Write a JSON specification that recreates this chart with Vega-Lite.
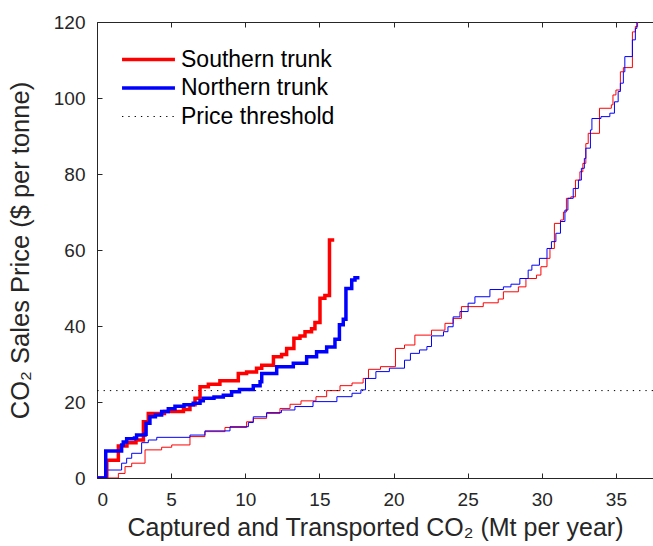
{
 "$schema": "https://vega.github.io/schema/vega-lite/v6.json",
 "width": 556, "height": 456,
 "autosize": {"type": "none"},
 "padding": {"left": 97, "top": 22, "right": 0, "bottom": 68},
 "background": "white",
 "config": {
  "view": {"stroke": null},
  "font": "Liberation Sans",
  "axis": {"grid": false, "domainColor": "#262626", "tickColor": "#262626", "labelColor": "#262626", "titleColor": "#262626", "labelFontSize": 19, "titleFontSize": 25, "titleFontWeight": "normal", "tickSize": -5, "domainWidth": 1, "tickWidth": 1}
 },
 "datasets": {
  "pts": [
   {"series":"Southern trunk","kind":"thick","x":0,"y":0},{"series":"Southern trunk","kind":"thick","x":0.66,"y":4.7},{"series":"Southern trunk","kind":"thick","x":1.44,"y":8.4},{"series":"Southern trunk","kind":"thick","x":2.02,"y":9.3},{"series":"Southern trunk","kind":"thick","x":2.63,"y":10.0},{"series":"Southern trunk","kind":"thick","x":3.13,"y":14.8},{"series":"Southern trunk","kind":"thick","x":3.46,"y":17.0},{"series":"Southern trunk","kind":"thick","x":4.55,"y":17.5},{"series":"Southern trunk","kind":"thick","x":5.83,"y":18.0},{"series":"Southern trunk","kind":"thick","x":6.27,"y":19.3},{"series":"Southern trunk","kind":"thick","x":6.61,"y":21.0},{"series":"Southern trunk","kind":"thick","x":6.95,"y":24.0},{"series":"Southern trunk","kind":"thick","x":7.51,"y":24.7},{"series":"Southern trunk","kind":"thick","x":8.29,"y":25.6},{"series":"Southern trunk","kind":"thick","x":9.53,"y":27.5},{"series":"Southern trunk","kind":"thick","x":10.09,"y":27.9},{"series":"Southern trunk","kind":"thick","x":10.76,"y":28.9},{"series":"Southern trunk","kind":"thick","x":11.11,"y":29.7},{"series":"Southern trunk","kind":"thick","x":11.9,"y":31.9},{"series":"Southern trunk","kind":"thick","x":12.45,"y":32.5},{"series":"Southern trunk","kind":"thick","x":12.79,"y":34.1},{"series":"Southern trunk","kind":"thick","x":13.28,"y":36.8},{"series":"Southern trunk","kind":"thick","x":13.69,"y":37.4},{"series":"Southern trunk","kind":"thick","x":14.03,"y":38.5},{"series":"Southern trunk","kind":"thick","x":14.47,"y":39.3},{"series":"Southern trunk","kind":"thick","x":14.7,"y":40.9},{"series":"Southern trunk","kind":"thick","x":15.04,"y":47.3},{"series":"Southern trunk","kind":"thick","x":15.37,"y":48.0},{"series":"Southern trunk","kind":"thick","x":15.68,"y":62.6},{"series":"Southern trunk","kind":"thick","x":16.0,"y":62.6},
   {"series":"Northern trunk","kind":"thick","x":0,"y":0},{"series":"Northern trunk","kind":"thick","x":0.59,"y":7.1},{"series":"Northern trunk","kind":"thick","x":1.66,"y":8.7},{"series":"Northern trunk","kind":"thick","x":1.77,"y":9.5},{"series":"Northern trunk","kind":"thick","x":2.0,"y":10.3},{"series":"Northern trunk","kind":"thick","x":2.53,"y":10.5},{"series":"Northern trunk","kind":"thick","x":2.67,"y":11.3},{"series":"Northern trunk","kind":"thick","x":3.24,"y":11.5},{"series":"Northern trunk","kind":"thick","x":3.31,"y":14.4},{"series":"Northern trunk","kind":"thick","x":3.57,"y":16.1},{"series":"Northern trunk","kind":"thick","x":3.94,"y":16.6},{"series":"Northern trunk","kind":"thick","x":4.36,"y":17.5},{"series":"Northern trunk","kind":"thick","x":4.81,"y":18.2},{"series":"Northern trunk","kind":"thick","x":5.26,"y":18.9},{"series":"Northern trunk","kind":"thick","x":5.87,"y":19.3},{"series":"Northern trunk","kind":"thick","x":6.49,"y":19.7},{"series":"Northern trunk","kind":"thick","x":6.95,"y":20.3},{"series":"Northern trunk","kind":"thick","x":7.17,"y":21.0},{"series":"Northern trunk","kind":"thick","x":7.89,"y":21.3},{"series":"Northern trunk","kind":"thick","x":8.52,"y":21.8},{"series":"Northern trunk","kind":"thick","x":9.08,"y":22.7},{"series":"Northern trunk","kind":"thick","x":9.61,"y":23.3},{"series":"Northern trunk","kind":"thick","x":10.54,"y":24.3},{"series":"Northern trunk","kind":"thick","x":11.0,"y":25.3},{"series":"Northern trunk","kind":"thick","x":11.11,"y":27.5},{"series":"Northern trunk","kind":"thick","x":12.12,"y":29.3},{"series":"Northern trunk","kind":"thick","x":13.24,"y":30.2},{"series":"Northern trunk","kind":"thick","x":14.14,"y":31.9},{"series":"Northern trunk","kind":"thick","x":14.81,"y":33.2},{"series":"Northern trunk","kind":"thick","x":15.49,"y":34.5},{"series":"Northern trunk","kind":"thick","x":16.05,"y":36.5},{"series":"Northern trunk","kind":"thick","x":16.35,"y":40.3},{"series":"Northern trunk","kind":"thick","x":16.61,"y":41.8},{"series":"Northern trunk","kind":"thick","x":16.79,"y":49.9},{"series":"Northern trunk","kind":"thick","x":17.18,"y":52.1},{"series":"Northern trunk","kind":"thick","x":17.4,"y":52.7},{"series":"Northern trunk","kind":"thick","x":17.7,"y":52.7},
   {"series":"Southern trunk","kind":"thin","x":0,"y":0},{"series":"Southern trunk","kind":"thin","x":1.44,"y":1.2},{"series":"Southern trunk","kind":"thin","x":1.89,"y":3.0},{"series":"Southern trunk","kind":"thin","x":2.34,"y":3.9},{"series":"Southern trunk","kind":"thin","x":3.24,"y":7.4},{"series":"Southern trunk","kind":"thin","x":4.36,"y":8.1},{"series":"Southern trunk","kind":"thin","x":5.04,"y":8.7},{"series":"Southern trunk","kind":"thin","x":6.27,"y":10.9},{"series":"Southern trunk","kind":"thin","x":7.28,"y":12.2},{"series":"Southern trunk","kind":"thin","x":8.63,"y":13.3},{"series":"Southern trunk","kind":"thin","x":10.09,"y":14.8},{"series":"Southern trunk","kind":"thin","x":10.54,"y":15.7},{"series":"Southern trunk","kind":"thin","x":11.44,"y":17.0},{"series":"Southern trunk","kind":"thin","x":12.34,"y":18.3},{"series":"Southern trunk","kind":"thin","x":13.02,"y":19.4},{"series":"Southern trunk","kind":"thin","x":13.76,"y":20.3},{"series":"Southern trunk","kind":"thin","x":14.77,"y":21.4},{"series":"Southern trunk","kind":"thin","x":15.49,"y":23.0},{"series":"Southern trunk","kind":"thin","x":16.39,"y":24.3},{"series":"Southern trunk","kind":"thin","x":17.2,"y":25.0},{"series":"Southern trunk","kind":"thin","x":17.95,"y":26.2},{"series":"Southern trunk","kind":"thin","x":18.31,"y":28.6},{"series":"Southern trunk","kind":"thin","x":19.12,"y":29.3},{"series":"Southern trunk","kind":"thin","x":20.13,"y":34.1},{"series":"Southern trunk","kind":"thin","x":20.74,"y":35.0},{"series":"Southern trunk","kind":"thin","x":21.44,"y":37.6},{"series":"Southern trunk","kind":"thin","x":22.56,"y":38.9},{"series":"Southern trunk","kind":"thin","x":23.47,"y":40.7},{"series":"Southern trunk","kind":"thin","x":24.02,"y":42.0},{"series":"Southern trunk","kind":"thin","x":24.58,"y":45.1},{"series":"Southern trunk","kind":"thin","x":26.05,"y":46.1},{"series":"Southern trunk","kind":"thin","x":27.06,"y":47.1},{"series":"Southern trunk","kind":"thin","x":27.41,"y":49.0},{"series":"Southern trunk","kind":"thin","x":28.42,"y":50.3},{"series":"Southern trunk","kind":"thin","x":28.93,"y":52.5},{"series":"Southern trunk","kind":"thin","x":29.64,"y":53.4},{"series":"Southern trunk","kind":"thin","x":29.94,"y":55.6},{"series":"Southern trunk","kind":"thin","x":30.35,"y":57.8},{"series":"Southern trunk","kind":"thin","x":30.55,"y":60.4},{"series":"Southern trunk","kind":"thin","x":30.85,"y":67.0},{"series":"Southern trunk","kind":"thin","x":31.26,"y":67.9},{"series":"Southern trunk","kind":"thin","x":31.46,"y":70.0},{"series":"Southern trunk","kind":"thin","x":31.66,"y":73.6},{"series":"Southern trunk","kind":"thin","x":31.96,"y":74.0},{"series":"Southern trunk","kind":"thin","x":32.27,"y":78.4},{"series":"Southern trunk","kind":"thin","x":32.57,"y":80.6},{"series":"Southern trunk","kind":"thin","x":32.77,"y":82.8},{"series":"Southern trunk","kind":"thin","x":32.97,"y":88.0},{"series":"Southern trunk","kind":"thin","x":33.13,"y":90.7},{"series":"Southern trunk","kind":"thin","x":33.89,"y":97.3},{"series":"Southern trunk","kind":"thin","x":34.69,"y":98.2},{"series":"Southern trunk","kind":"thin","x":34.8,"y":100.8},{"series":"Southern trunk","kind":"thin","x":35.0,"y":102.1},{"series":"Southern trunk","kind":"thin","x":35.3,"y":106.9},{"series":"Southern trunk","kind":"thin","x":35.5,"y":108.0},{"series":"Southern trunk","kind":"thin","x":36.11,"y":117.4},{"series":"Southern trunk","kind":"thin","x":36.31,"y":118.8},{"series":"Southern trunk","kind":"thin","x":36.46,"y":120.5},{"series":"Southern trunk","kind":"thin","x":36.62,"y":120.5},
   {"series":"Northern trunk","kind":"thin","x":0,"y":0},{"series":"Northern trunk","kind":"thin","x":0.65,"y":2.1},{"series":"Northern trunk","kind":"thin","x":1.66,"y":3.9},{"series":"Northern trunk","kind":"thin","x":2.0,"y":5.2},{"series":"Northern trunk","kind":"thin","x":2.34,"y":6.5},{"series":"Northern trunk","kind":"thin","x":3.01,"y":9.3},{"series":"Northern trunk","kind":"thin","x":3.46,"y":10.0},{"series":"Northern trunk","kind":"thin","x":4.03,"y":10.7},{"series":"Northern trunk","kind":"thin","x":6.27,"y":11.3},{"series":"Northern trunk","kind":"thin","x":7.28,"y":12.4},{"series":"Northern trunk","kind":"thin","x":8.97,"y":13.5},{"series":"Northern trunk","kind":"thin","x":10.21,"y":14.6},{"series":"Northern trunk","kind":"thin","x":10.54,"y":16.1},{"series":"Northern trunk","kind":"thin","x":11.44,"y":17.2},{"series":"Northern trunk","kind":"thin","x":12.44,"y":17.9},{"series":"Northern trunk","kind":"thin","x":13.35,"y":18.8},{"series":"Northern trunk","kind":"thin","x":14.57,"y":20.1},{"series":"Northern trunk","kind":"thin","x":16.18,"y":21.4},{"series":"Northern trunk","kind":"thin","x":17.2,"y":22.3},{"series":"Northern trunk","kind":"thin","x":17.8,"y":23.2},{"series":"Northern trunk","kind":"thin","x":18.11,"y":26.2},{"series":"Northern trunk","kind":"thin","x":18.81,"y":28.0},{"series":"Northern trunk","kind":"thin","x":19.72,"y":28.9},{"series":"Northern trunk","kind":"thin","x":20.74,"y":31.0},{"series":"Northern trunk","kind":"thin","x":21.14,"y":32.8},{"series":"Northern trunk","kind":"thin","x":21.75,"y":33.7},{"series":"Northern trunk","kind":"thin","x":22.25,"y":34.6},{"series":"Northern trunk","kind":"thin","x":22.56,"y":37.4},{"series":"Northern trunk","kind":"thin","x":23.37,"y":38.5},{"series":"Northern trunk","kind":"thin","x":23.67,"y":39.8},{"series":"Northern trunk","kind":"thin","x":24.02,"y":42.4},{"series":"Northern trunk","kind":"thin","x":24.48,"y":43.8},{"series":"Northern trunk","kind":"thin","x":25.03,"y":46.0},{"series":"Northern trunk","kind":"thin","x":25.49,"y":47.7},{"series":"Northern trunk","kind":"thin","x":26.5,"y":49.6},{"series":"Northern trunk","kind":"thin","x":27.41,"y":50.3},{"series":"Northern trunk","kind":"thin","x":27.92,"y":51.0},{"series":"Northern trunk","kind":"thin","x":28.52,"y":52.5},{"series":"Northern trunk","kind":"thin","x":29.08,"y":54.7},{"series":"Northern trunk","kind":"thin","x":29.33,"y":56.0},{"series":"Northern trunk","kind":"thin","x":29.84,"y":57.8},{"series":"Northern trunk","kind":"thin","x":30.35,"y":60.4},{"series":"Northern trunk","kind":"thin","x":30.65,"y":62.2},{"series":"Northern trunk","kind":"thin","x":30.95,"y":64.4},{"series":"Northern trunk","kind":"thin","x":31.26,"y":67.5},{"series":"Northern trunk","kind":"thin","x":31.56,"y":70.5},{"series":"Northern trunk","kind":"thin","x":31.76,"y":73.6},{"series":"Northern trunk","kind":"thin","x":32.12,"y":76.2},{"series":"Northern trunk","kind":"thin","x":32.47,"y":78.4},{"series":"Northern trunk","kind":"thin","x":32.67,"y":81.5},{"series":"Northern trunk","kind":"thin","x":32.87,"y":84.1},{"series":"Northern trunk","kind":"thin","x":32.97,"y":86.8},{"series":"Northern trunk","kind":"thin","x":33.28,"y":91.6},{"series":"Northern trunk","kind":"thin","x":33.38,"y":94.6},{"series":"Northern trunk","kind":"thin","x":33.99,"y":95.1},{"series":"Northern trunk","kind":"thin","x":34.59,"y":96.0},{"series":"Northern trunk","kind":"thin","x":34.9,"y":99.0},{"series":"Northern trunk","kind":"thin","x":35.15,"y":101.7},{"series":"Northern trunk","kind":"thin","x":35.3,"y":103.9},{"series":"Northern trunk","kind":"thin","x":35.5,"y":106.9},{"series":"Northern trunk","kind":"thin","x":35.6,"y":110.9},{"series":"Northern trunk","kind":"thin","x":36.11,"y":115.3},{"series":"Northern trunk","kind":"thin","x":36.31,"y":118.3},{"series":"Northern trunk","kind":"thin","x":36.41,"y":120.5},{"series":"Northern trunk","kind":"thin","x":36.62,"y":120.5},
   {"series":"Price threshold","kind":"threshold","x":0,"y":23}
  ]
 },
 "data": {"name": "pts"},
 "layer": [
  {
   "transform": [{"filter": "datum.kind === 'thin' && datum.series === 'Southern trunk'"}],
   "mark": {"type": "line", "interpolate": "step-after", "color": "#ff0000", "strokeWidth": 1, "clip": true},
   "encoding": {
    "x": {"field": "x", "type": "quantitative", "scale": {"domain": [0, 37.5], "nice": false}, "axis": {"values": [0,5,10,15,20,25,30,35], "title": "Captured and Transported CO₂ (Mt per year)", "labelPadding": 17, "titlePadding": 6}},
    "y": {"field": "y", "type": "quantitative", "scale": {"domain": [0, 120], "nice": false}, "axis": {"values": [0,20,40,60,80,100,120], "title": "CO₂ Sales Price ($ per tonne)", "titleFontSize": 25.5, "labelPadding": 17, "titlePadding": 20}}
   }
  },
  {
   "transform": [{"filter": "datum.kind === 'thin' && datum.series === 'Northern trunk'"}],
   "mark": {"type": "line", "interpolate": "step-after", "color": "#0000ff", "strokeWidth": 1, "clip": true},
   "encoding": {
    "x": {"field": "x", "type": "quantitative", "axis": null},
    "y": {"field": "y", "type": "quantitative", "axis": null}
   }
  },
  {
   "transform": [{"filter": "datum.kind === 'threshold'"}],
   "mark": {"type": "rule", "strokeWidth": 1},
   "encoding": {
    "y": {"field": "y", "type": "quantitative", "axis": null},
    "color": {"field": "series", "type": "nominal"},
    "strokeDash": {"field": "series", "type": "nominal"}
   }
  },
  {
   "transform": [{"filter": "datum.kind === 'thick'"}],
   "mark": {"type": "line", "interpolate": "step-after", "strokeWidth": 3.5, "clip": true},
   "encoding": {
    "x": {"field": "x", "type": "quantitative", "axis": null},
    "y": {"field": "y", "type": "quantitative", "axis": null},
    "color": {"field": "series", "type": "nominal", "scale": {"domain": ["Southern trunk", "Northern trunk", "Price threshold"], "range": ["#ff0000", "#0000ff", "#000000"]},
     "legend": {"title": null, "orient": "none", "legendX": 40, "legendY": 26, "symbolType": "M-2,0H2", "symbolSize": 700, "symbolStrokeWidth": 3.5, "labelFontSize": 23, "labelColor": "#000000", "labelOffset": 21, "rowPadding": 4.5, "padding": 0,
      "encode": {"symbols": {"update": {"strokeWidth": {"signal": "datum.value === 'Price threshold' ? 1 : 3.5"}}}}}},
    "strokeDash": {"field": "series", "type": "nominal", "scale": {"domain": ["Southern trunk", "Northern trunk", "Price threshold"], "range": [[1, 0], [1, 0], [1.3, 5]]}, "legend": {"title": null, "orient": "none", "legendX": 40, "legendY": 26, "symbolType": "M-2,0H2", "symbolSize": 700, "labelFontSize": 23, "labelOffset": 21, "rowPadding": 4.5, "padding": 0}}
   }
  },
  {
   "transform": [{"filter": "datum.kind === 'thick'"}],
   "mark": {"type": "point", "opacity": 0},
   "encoding": {
    "x": {"field": "x", "type": "quantitative", "axis": {"orient": "top", "values": [0,5,10,15,20,25,30,35], "labels": false, "title": null}},
    "y": {"field": "y", "type": "quantitative", "axis": null}
   }
  }
 ],
 "resolve": {"axis": {"x": "independent", "y": "independent"}}
}
